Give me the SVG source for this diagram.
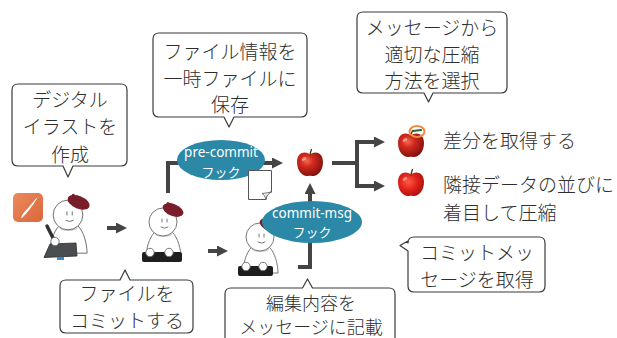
<svg xmlns="http://www.w3.org/2000/svg" width="617" height="338" viewBox="0 0 617 338">
  <style>
    .bubble { fill: #fff; stroke: #3a3a3a; stroke-width: 1.2; stroke-linejoin: round; }
    .label { font-family: "Noto Sans CJK JP", "Noto Sans", sans-serif; font-size: 19px; fill: #2e2e2e; font-weight: 300; }
    .mid { text-anchor: middle; }
    .hook { fill: #2b88a6; }
    .hooktxt { font-family: "Noto Sans", "Noto Sans CJK JP", sans-serif; font-size: 13.5px; fill: #fff; text-anchor: middle; }
    .hookjp { font-family: "Noto Sans CJK JP", sans-serif; font-size: 13px; }
    .flow { fill: none; stroke: #444; stroke-width: 4; stroke-linejoin: miter; }
    .arrow { marker-end: url(#head); }
    .skin { fill: #fff; stroke: #6a6a6a; stroke-width: 0.9; }
    .beret { fill: #7a1d2a; }
    .face { fill: none; stroke: #555; stroke-width: 0.8; stroke-linecap: round; }
    .keys { fill: #1e1e1e; }
  </style>
  <defs>
    <marker id="head" markerUnits="userSpaceOnUse" markerWidth="11" markerHeight="11" refX="3" refY="5.5" orient="auto">
      <path d="M0,0 L11,5.5 L0,11 Z" fill="#444"/>
    </marker>
    <radialGradient id="appleRed" cx="0.38" cy="0.35" r="0.7">
      <stop offset="0" stop-color="#f26a4f"/>
      <stop offset="0.35" stop-color="#d42a1e"/>
      <stop offset="1" stop-color="#7c0f0c"/>
    </radialGradient>
    <radialGradient id="appleBright" cx="0.4" cy="0.4" r="0.7">
      <stop offset="0" stop-color="#ff5a44"/>
      <stop offset="0.5" stop-color="#e0201a"/>
      <stop offset="1" stop-color="#a0100e"/>
    </radialGradient>
    <linearGradient id="brushBg" x1="0" y1="0" x2="1" y2="1">
      <stop offset="0" stop-color="#ec8a5c"/>
      <stop offset="1" stop-color="#d9673c"/>
    </linearGradient>
    <!-- apple shape centred on 0,0 -->
    <g id="appleShape">
      <path d="M0,-9 C4,-13.5 13,-12 13,-2 C13,7 7,13 2,12 C1,11.6 -1,11.6 -2,12 C-7,13 -13,7 -13,-2 C-13,-12 -4,-13.5 0,-9 Z"/>
      <path d="M0,-9 C0.3,-11 0.8,-13 1.5,-14.5" fill="none" stroke="#4a2a10" stroke-width="1.3" stroke-linecap="round"/>
      <ellipse cx="-6" cy="-5" rx="2.5" ry="1.5" fill="#fff" opacity="0.45" transform="rotate(-30 -6 -5)"/>
    </g>
    <!-- seated figure, head centred on 0,0 -->
    <g id="figure">
      <path class="skin" d="M-8,10 C-14,15 -17,28 -17,36 L18,36 C18,28 15,15 9,10 Z"/>
      <ellipse cx="0.5" cy="12" rx="8.5" ry="3" fill="#c9c9c9"/>
      <circle class="skin" cx="0" cy="0" r="14"/>
      <path class="face" d="M-1,-3 V0 M4,-3 V0 M-2,5 Q1.5,7.5 5,5"/>
      <ellipse class="beret" cx="10" cy="-12" rx="11" ry="6" transform="rotate(22 10 -12)"/>
      <circle class="beret" cx="5" cy="-18.5" r="1.5"/>
    </g>
  </defs>

  <!-- connectors -->
  <g id="connectors">
    <path class="flow arrow" d="M107,228 H119"/>
    <path class="flow arrow" d="M208,251 H220"/>
    <path class="flow arrow" d="M168,193 V163 H275"/>
    <path class="flow arrow" d="M298,267 H310 V191"/>
    <path class="flow" d="M332,163 H357"/>
    <path class="flow arrow" d="M357,163 V142 H377"/>
    <path class="flow arrow" d="M357,163 V186 H377"/>
  </g>

  <!-- drawing tool icon -->
  <g id="brush-icon">
    <rect x="13" y="193" width="30" height="29" rx="5" fill="url(#brushBg)"/>
    <path d="M37.5,197 C35,203 28,212 21.5,218.5 C21,217 22,214.5 24.5,212 C29,207 33.5,201.5 37.5,197 Z" fill="#fff"/>
  </g>

  <!-- illustrator with tablet -->
  <g id="person-draw">
    <use href="#figure" transform="translate(68 215) scale(1.06)"/>
    <path d="M50,244 L76,243 L77,256 L44,257.5 Z" fill="#4a4e52" stroke="#2a2a2a" stroke-width="0.8"/>
    <rect x="57" y="257" width="7" height="3" fill="#3a86c8"/>
    <path d="M47,226 L56,244" stroke="#333" stroke-width="3.5" stroke-linecap="round"/>
    <circle class="skin" cx="55" cy="241.5" r="4.2"/>
  </g>

  <!-- committer at keyboard -->
  <g id="person-commit">
    <use href="#figure" transform="translate(163 222)"/>
    <rect class="keys" x="142" y="252" width="40" height="10" rx="2"/>
    <circle class="skin" cx="150" cy="252.5" r="4.2"/>
    <circle class="skin" cx="169" cy="252.5" r="4.2"/>
  </g>

  <!-- message writer at keyboard -->
  <g id="person-message">
    <use href="#figure" transform="translate(260 237)"/>
    <rect class="keys" x="238" y="266" width="35" height="10" rx="2"/>
    <circle class="skin" cx="246" cy="266.5" r="4.2"/>
    <circle class="skin" cx="263" cy="266.5" r="4.2"/>
  </g>

  <!-- hooks -->
  <g id="pre-commit">
    <ellipse class="hook" cx="221" cy="160" rx="44" ry="20"/>
    <text class="hooktxt" x="221" y="157">pre-commit</text>
    <text class="hooktxt hookjp" x="221" y="176.5">フック</text>
  </g>

  <g id="temp-file">
    <path d="M248.5,170.5 H271.5 V192 C269,192 267,194 266,199.5 H248.5 Z" fill="#fff" stroke="#555" stroke-width="1"/>
    <path d="M271.5,192 C268,194 266,196 266,199.5 C265,196 263.5,194 262,193.5 C266,193 269,192.5 271.5,192 Z" fill="#eee" stroke="#555" stroke-width="0.8"/>
  </g>

  <g id="commit-msg">
    <ellipse class="hook" cx="312" cy="222" rx="50" ry="21"/>
    <text class="hooktxt" x="312" y="218">commit-msg</text>
    <text class="hooktxt hookjp" x="312" y="237">フック</text>
  </g>

  <!-- apples -->
  <g id="apple-source">
    <use href="#appleShape" transform="translate(310 164)" fill="url(#appleRed)"/>
  </g>
  <g id="apple-diff">
    <use href="#appleShape" transform="translate(411 145)" fill="url(#appleRed)"/>
    <ellipse cx="417" cy="131.5" rx="7.5" ry="5.5" fill="none" stroke="#f08a40" stroke-width="2"/>
    <path d="M413,131 L421,130" stroke="#2f6a2a" stroke-width="2" stroke-linecap="round"/>
    <text class="label" x="443" y="148">差分を取得する</text>
  </g>
  <g id="apple-adjacent">
    <use href="#appleShape" transform="translate(411 184)" fill="url(#appleBright)"/>
    <text class="label" x="443" y="192">隣接データの並びに</text>
    <text class="label" x="443" y="220">着目して圧縮</text>
  </g>

  <!-- speech bubbles -->
  <g id="note-create">
    <path class="bubble" d="M18,84 H121 Q127,84 127,90 V160 Q127,166 121,166 H73 L68,177 L63,166 H18 Q12,166 12,160 V90 Q12,84 18,84 Z"/>
    <text class="label mid" x="70" y="107">デジタル</text>
    <text class="label mid" x="70" y="134">イラストを</text>
    <text class="label mid" x="70" y="162">作成</text>
  </g>

  <g id="note-save">
    <path class="bubble" d="M159,33 H301 Q307,33 307,39 V111 Q307,117 301,117 H234 L229,127 L224,117 H159 Q153,117 153,111 V39 Q153,33 159,33 Z"/>
    <text class="label mid" x="230" y="59">ファイル情報を</text>
    <text class="label mid" x="230" y="86">一時ファイルに</text>
    <text class="label mid" x="230" y="112">保存</text>
  </g>

  <g id="note-select">
    <path class="bubble" d="M363,12 H501 Q507,12 507,18 V87 Q507,93 501,93 H433 L428.5,102 L424,93 H363 Q357,93 357,87 V18 Q357,12 363,12 Z"/>
    <text class="label mid" x="432" y="35">メッセージから</text>
    <text class="label mid" x="432" y="62">適切な圧縮</text>
    <text class="label mid" x="432" y="88">方法を選択</text>
  </g>

  <g id="note-commit">
    <path class="bubble" d="M66,280 H120 L125,270 L130,280 H187 Q193,280 193,286 V327 Q193,333 187,333 H66 Q60,333 60,327 V286 Q60,280 66,280 Z"/>
    <text class="label mid" x="127" y="301">ファイルを</text>
    <text class="label mid" x="127" y="328">コミットする</text>
  </g>

  <g id="note-message">
    <path class="bubble" d="M231,288 H302.5 L307.5,279 L312.5,288 H389 Q395,288 395,294 V346 H225 V294 Q225,288 231,288 Z"/>
    <text class="label mid" x="311" y="309.5" style="font-size:18px">編集内容を</text>
    <text class="label mid" x="311" y="334" style="font-size:18px">メッセージに記載</text>
  </g>

  <g id="note-fetch">
    <path class="bubble" d="M414,237 H539 Q545,237 545,243 V286 Q545,292 539,292 H414 Q408,292 408,286 V251 L400,245.5 L408,241 V243 Q408,237 414,237 Z"/>
    <text class="label mid" x="477" y="260">コミットメッ</text>
    <text class="label mid" x="477" y="287">セージを取得</text>
  </g>
</svg>
